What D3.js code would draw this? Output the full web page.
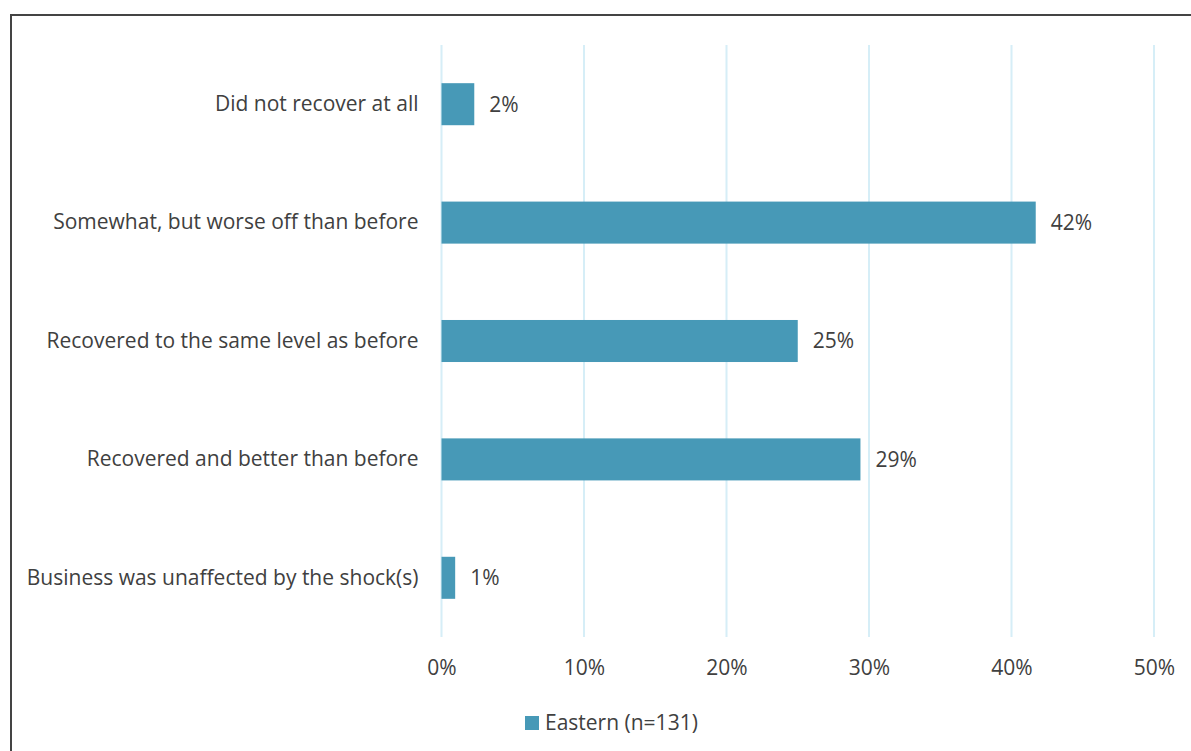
<!DOCTYPE html>
<html>
<head>
<meta charset="utf-8">
<script src="https://cdn.jsdelivr.net/npm/d3@7"></script>
<style>
  html, body { margin: 0; padding: 0; background: #fff; }
  svg { display: block; }
  text { font-family: "Open Sans", "Liberation Sans", sans-serif; fill: #404040; }
</style>
</head>
<body>
<svg id="chart" width="1191" height="751"></svg>
<script>
// Survey responses: extent of recovery after shock(s)
const categories = [
  "Did not recover at all",
  "Somewhat, but worse off than before",
  "Recovered to the same level as before",
  "Recovered and better than before",
  "Business was unaffected by the shock(s)"
];
const shares = [0.023, 0.417, 0.250, 0.294, 0.0096];
const tickValues = [0, 0.1, 0.2, 0.3, 0.4, 0.5];
const seriesName = "Eastern (n=131)";

const W = 1191, H = 751;
const margin = { left: 441.5, right: 37, top: 45, bottom: 114 };
const barColor = "#4799B7";
const gridColor = "#D6EEF7";
const fontSize = 21;

const svg = d3.select("#chart");

// outer frame (runs off the right and bottom edges)
svg.append("rect")
  .attr("x", 11).attr("y", 15)
  .attr("width", W).attr("height", H)
  .attr("fill", "none")
  .attr("stroke", "#444")
  .attr("stroke-width", 2);

const x = d3.scaleLinear().domain([0, 0.5]).range([margin.left, W - margin.right]);
const y = d3.scaleBand().domain(categories)
  .range([margin.top, H - margin.bottom])
  .paddingInner(0.645).paddingOuter(0.3225);

// vertical gridlines
svg.append("g").selectAll("line")
  .data(tickValues)
  .join("line")
  .attr("x1", d => x(d)).attr("x2", d => x(d))
  .attr("y1", margin.top).attr("y2", H - margin.bottom)
  .attr("stroke", gridColor)
  .attr("stroke-width", 2);

// x axis tick labels
const xAxis = d3.axisBottom(x).tickValues(tickValues).tickFormat(d3.format(".0%")).tickSize(0).tickPadding(0);
const gx = svg.append("g")
  .attr("transform", `translate(0, ${H - margin.bottom})`)
  .call(xAxis);
gx.select(".domain").remove();
gx.selectAll("text")
  .attr("y", 31)
  .attr("dy", "0.35em")
  .style("font-size", fontSize + "px")
  .style("font-family", null)
  .attr("fill", "#404040");

// y axis category labels
const yAxis = d3.axisLeft(y).tickSize(0).tickPadding(23);
const gy = svg.append("g")
  .attr("transform", `translate(${margin.left}, 0)`)
  .call(yAxis);
gy.select(".domain").remove();
gy.selectAll("text")
  .style("font-size", fontSize + "px")
  .style("font-family", null)
  .attr("fill", "#404040");

// bars
svg.append("g").selectAll("rect")
  .data(categories)
  .join("rect")
  .attr("x", x(0))
  .attr("y", d => y(d))
  .attr("width", (d, i) => x(shares[i]) - x(0))
  .attr("height", y.bandwidth())
  .attr("fill", barColor);

// value labels
svg.append("g").selectAll("text")
  .data(categories)
  .join("text")
  .attr("x", (d, i) => x(shares[i]) + 15)
  .attr("y", d => y(d) + y.bandwidth() / 2)
  .attr("dy", "0.35em")
  .style("font-size", fontSize + "px")
  .text((d, i) => d3.format(".0%")(shares[i]));

// legend
const legend = svg.append("g").attr("transform", "translate(525, 716)");
legend.append("rect").attr("width", 14).attr("height", 14).attr("fill", barColor);
legend.append("text")
  .attr("x", 20).attr("y", 7).attr("dy", "0.35em")
  .style("font-size", fontSize + "px")
  .text(seriesName);
</script>
</body>
</html>
